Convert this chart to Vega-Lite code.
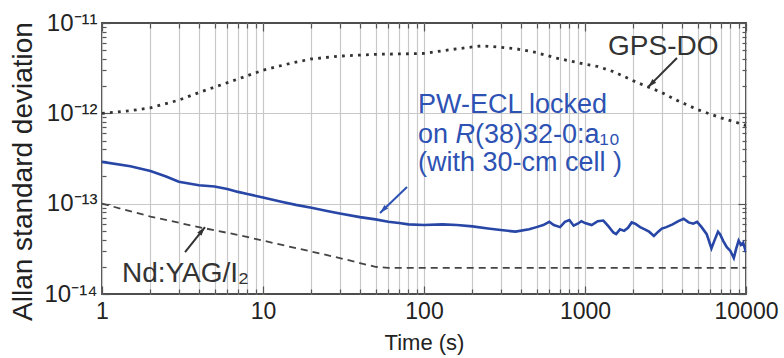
{
  "$schema": "https://vega.github.io/schema/vega-lite/v6.json",
  "width": 644,
  "height": 271,
  "autosize": "none",
  "padding": {"left": 102, "top": 23, "right": 38, "bottom": 64},
  "background": "white",
  "config": {
    "view": {"stroke": "#4d4d4d", "strokeWidth": 2},
    "font": "Liberation Sans",
    "axis": {
      "labelFont": "Liberation Sans",
      "titleFont": "Liberation Sans",
      "labelColor": "#222222",
      "titleColor": "#222222",
      "titleFontWeight": "normal",
      "domain": false,
      "tickColor": "#555555",
      "tickWidth": 1.2,
      "gridColor": "#c8c8c8",
      "gridWidth": 1.2,
      "labelOverlap": false,
      "labelFlush": false
    }
  },
  "datasets": {
    "gps": [
      {"t": 1, "s": 1.0e-12}, {"t": 1.5, "s": 1.07e-12}, {"t": 2, "s": 1.15e-12}, {"t": 3, "s": 1.4e-12},
      {"t": 4, "s": 1.7e-12}, {"t": 5, "s": 1.95e-12}, {"t": 7, "s": 2.4e-12}, {"t": 10, "s": 3.0e-12},
      {"t": 15, "s": 3.6e-12}, {"t": 20, "s": 4.0e-12}, {"t": 30, "s": 4.3e-12}, {"t": 50, "s": 4.5e-12},
      {"t": 100, "s": 4.6e-12}, {"t": 150, "s": 5.1e-12}, {"t": 230, "s": 5.6e-12}, {"t": 370, "s": 5.2e-12},
      {"t": 500, "s": 4.7e-12}, {"t": 660, "s": 4.1e-12}, {"t": 1000, "s": 3.5e-12}, {"t": 1200, "s": 3.3e-12},
      {"t": 1500, "s": 2.9e-12}, {"t": 2100, "s": 2.2e-12}, {"t": 3000, "s": 1.7e-12}, {"t": 3700, "s": 1.4e-12},
      {"t": 5000, "s": 1.1e-12}, {"t": 7000, "s": 8.9e-13}, {"t": 8800, "s": 7.9e-13}, {"t": 10000, "s": 7.3e-13}
    ],
    "ecl": [
      {"t": 1, "s": 2.9e-13}, {"t": 1.5, "s": 2.6e-13}, {"t": 2, "s": 2.3e-13}, {"t": 2.5, "s": 2.0e-13},
      {"t": 3, "s": 1.75e-13}, {"t": 4, "s": 1.6e-13}, {"t": 5, "s": 1.55e-13}, {"t": 6, "s": 1.45e-13},
      {"t": 7, "s": 1.35e-13}, {"t": 8, "s": 1.28e-13}, {"t": 10, "s": 1.17e-13}, {"t": 13, "s": 1.05e-13},
      {"t": 16, "s": 9.7e-14}, {"t": 20, "s": 9.0e-14}, {"t": 25, "s": 8.3e-14}, {"t": 30, "s": 7.8e-14},
      {"t": 40, "s": 7.1e-14}, {"t": 50, "s": 6.7e-14}, {"t": 60, "s": 6.3e-14}, {"t": 70, "s": 6.1e-14},
      {"t": 80, "s": 5.9e-14}, {"t": 100, "s": 5.8e-14}, {"t": 130, "s": 5.9e-14}, {"t": 160, "s": 5.8e-14},
      {"t": 200, "s": 5.6e-14}, {"t": 250, "s": 5.3e-14}, {"t": 300, "s": 5.1e-14}, {"t": 370, "s": 4.9e-14},
      {"t": 450, "s": 5.2e-14}, {"t": 500, "s": 5.5e-14}, {"t": 550, "s": 5.8e-14}, {"t": 600, "s": 6.3e-14},
      {"t": 640, "s": 5.8e-14}, {"t": 700, "s": 5.5e-14}, {"t": 750, "s": 6.3e-14}, {"t": 800, "s": 6.6e-14},
      {"t": 850, "s": 5.7e-14}, {"t": 900, "s": 6.0e-14}, {"t": 950, "s": 6.4e-14}, {"t": 1000, "s": 6.1e-14},
      {"t": 1100, "s": 5.8e-14}, {"t": 1200, "s": 6.4e-14}, {"t": 1300, "s": 6.5e-14}, {"t": 1400, "s": 5.6e-14},
      {"t": 1500, "s": 4.8e-14}, {"t": 1560, "s": 4.6e-14}, {"t": 1650, "s": 5.2e-14}, {"t": 1750, "s": 5.0e-14},
      {"t": 1850, "s": 5.4e-14}, {"t": 1950, "s": 6.2e-14}, {"t": 2050, "s": 6.0e-14}, {"t": 2200, "s": 5.5e-14},
      {"t": 2350, "s": 5.2e-14}, {"t": 2500, "s": 4.9e-14}, {"t": 2680, "s": 4.4e-14}, {"t": 2850, "s": 4.9e-14},
      {"t": 3000, "s": 5.3e-14}, {"t": 3200, "s": 5.5e-14}, {"t": 3500, "s": 5.9e-14}, {"t": 3800, "s": 6.4e-14},
      {"t": 4100, "s": 6.8e-14}, {"t": 4400, "s": 6.2e-14}, {"t": 4700, "s": 6.0e-14}, {"t": 4970, "s": 6.3e-14},
      {"t": 5300, "s": 5.5e-14}, {"t": 5700, "s": 4.6e-14}, {"t": 6100, "s": 3.2e-14}, {"t": 6400, "s": 4.0e-14},
      {"t": 6700, "s": 4.9e-14}, {"t": 6900, "s": 4.6e-14}, {"t": 7200, "s": 3.9e-14}, {"t": 7600, "s": 3.3e-14},
      {"t": 8000, "s": 3.0e-14}, {"t": 8400, "s": 2.5e-14}, {"t": 8700, "s": 3.2e-14}, {"t": 9000, "s": 3.9e-14},
      {"t": 9300, "s": 3.5e-14}, {"t": 9600, "s": 3.7e-14}, {"t": 10000, "s": 2.9e-14}
    ],
    "ndyag": [
      {"t": 1, "s": 1.0e-13}, {"t": 2, "s": 7.2e-14}, {"t": 4, "s": 5.5e-14}, {"t": 7, "s": 4.5e-14},
      {"t": 10, "s": 3.9e-14}, {"t": 20, "s": 2.95e-14}, {"t": 30, "s": 2.5e-14}, {"t": 40, "s": 2.2e-14},
      {"t": 50, "s": 2.0e-14}, {"t": 60, "s": 1.95e-14}, {"t": 10000, "s": 1.95e-14}
    ]
  },
  "layer": [
    {
      "data": {"name": "gps"},
      "mark": {"type": "line", "stroke": "#333333", "strokeWidth": 2.8, "strokeDash": [2.8, 5.2], "clip": true},
      "encoding": {
        "x": {
          "field": "t", "type": "quantitative",
          "scale": {"type": "log", "domain": [1, 10000]},
          "axis": {
            "orient": "bottom",
            "values": [1,2,3,4,5,6,7,8,9,10,20,30,40,50,60,70,80,90,100,200,300,400,500,600,700,800,900,1000,2000,3000,4000,5000,6000,7000,8000,9000,10000],
            "labelExpr": "(datum.value == 1 || datum.value == 10 || datum.value == 100 || datum.value == 1000 || datum.value == 10000) ? format(datum.value, 'd') : ''",
            "grid": true,
            "tickSize": {"condition": {"test": "datum.value == 1 || datum.value == 10 || datum.value == 100 || datum.value == 1000 || datum.value == 10000", "value": -8}, "value": -5},
            "labelFontSize": 23,
            "labelPadding": 14,
            "title": "Time (s)",
            "titleFontSize": 22,
            "titleBaseline": "middle",
            "titleY": 48
          }
        },
        "y": {
          "field": "s", "type": "quantitative",
          "scale": {"type": "log", "domain": [1e-14, 1e-11]},
          "axis": {
            "orient": "left",
            "values": [1e-14,2e-14,3e-14,4e-14,5e-14,6e-14,7e-14,8e-14,9e-14,1e-13,2e-13,3e-13,4e-13,5e-13,6e-13,7e-13,8e-13,9e-13,1e-12,2e-12,3e-12,4e-12,5e-12,6e-12,7e-12,8e-12,9e-12,1e-11],
            "labelExpr": "datum.value == 1e-11 ? '10⁻¹¹' : datum.value == 1e-12 ? '10⁻¹²' : datum.value == 1e-13 ? '10⁻¹³' : datum.value == 1e-14 ? '10⁻¹⁴' : ''",
            "grid": true,
            "gridOpacity": {"condition": {"test": "datum.value == 1e-12 || datum.value == 1e-13", "value": 1}, "value": 0},
            "tickSize": {"condition": {"test": "datum.value == 1e-11 || datum.value == 1e-12 || datum.value == 1e-13 || datum.value == 1e-14", "value": -8}, "value": -4},
            "labelFontSize": 24,
            "labelPadding": 13,
            "labelBaseline": "middle",
            "title": "Allan standard deviation",
            "titleFontSize": 28,
            "titleAngle": -90,
            "titleAlign": "center",
            "titleBaseline": "middle",
            "titleX": -79,
            "titleY": 148
          }
        }
      }
    },
    {
      "data": {"name": "ecl"},
      "mark": {"type": "line", "stroke": "#2746a6", "strokeWidth": 2.6, "clip": true},
      "encoding": {
        "x": {
          "field": "t", "type": "quantitative",
          "scale": {"type": "log", "domain": [1, 10000]},
          "axis": {
            "orient": "top",
            "values": [1,2,3,4,5,6,7,8,9,10,20,30,40,50,60,70,80,90,100,200,300,400,500,600,700,800,900,1000,2000,3000,4000,5000,6000,7000,8000,9000,10000],
            "labels": false, "grid": false, "title": null,
            "tickSize": {"condition": {"test": "datum.value == 1 || datum.value == 10 || datum.value == 100 || datum.value == 1000 || datum.value == 10000", "value": -8}, "value": -5}
          }
        },
        "y": {
          "field": "s", "type": "quantitative",
          "scale": {"type": "log", "domain": [1e-14, 1e-11]},
          "axis": {
            "orient": "right",
            "values": [1e-14,2e-14,3e-14,4e-14,5e-14,6e-14,7e-14,8e-14,9e-14,1e-13,2e-13,3e-13,4e-13,5e-13,6e-13,7e-13,8e-13,9e-13,1e-12,2e-12,3e-12,4e-12,5e-12,6e-12,7e-12,8e-12,9e-12,1e-11],
            "labels": false, "grid": false, "title": null,
            "tickSize": {"condition": {"test": "datum.value == 1e-11 || datum.value == 1e-12 || datum.value == 1e-13 || datum.value == 1e-14", "value": -8}, "value": -4}
          }
        }
      }
    },
    {
      "data": {"name": "ndyag"},
      "mark": {"type": "line", "stroke": "#444444", "strokeWidth": 1.8, "strokeDash": [7, 5], "clip": true},
      "encoding": {
        "x": {"field": "t", "type": "quantitative", "scale": {"type": "log", "domain": [1, 10000]}, "axis": null},
        "y": {"field": "s", "type": "quantitative", "scale": {"type": "log", "domain": [1e-14, 1e-11]}, "axis": null}
      }
    },
    {
      "data": {"values": [
        {"t": 3725, "s": 4.09e-12, "t2": 2462, "s2": 1.95e-12, "color": "gray"},
        {"t": 78.4, "s": 1.53e-13, "t2": 53.3, "s2": 7.87e-14, "color": "blue"},
        {"t": 3.28, "s": 2.91e-14, "t2": 4.36, "s2": 5.5e-14, "color": "gray"}
      ]},
      "mark": {"type": "rule", "strokeWidth": 2},
      "encoding": {
        "x": {"field": "t", "type": "quantitative", "scale": {"type": "log", "domain": [1, 10000]}, "axis": null},
        "x2": {"field": "t2"},
        "y": {"field": "s", "type": "quantitative", "scale": {"type": "log", "domain": [1e-14, 1e-11]}, "axis": null},
        "y2": {"field": "s2"},
        "color": {"field": "color", "type": "nominal", "scale": {"domain": ["gray", "blue"], "range": ["#333333", "#2d52b3"]}, "legend": null}
      }
    },
    {
      "data": {"values": [
        {"t": 2462, "s": 1.95e-12, "dir": 225, "color": "gray"},
        {"t": 53.3, "s": 7.87e-14, "dir": 225, "color": "blue"},
        {"t": 4.36, "s": 5.5e-14, "dir": 39, "color": "gray"}
      ]},
      "mark": {"type": "point", "shape": "M0,0L-0.5,1.7L0.5,1.7Z", "filled": true, "size": 110, "opacity": 1},
      "encoding": {
        "x": {"field": "t", "type": "quantitative", "scale": {"type": "log", "domain": [1, 10000]}, "axis": null},
        "y": {"field": "s", "type": "quantitative", "scale": {"type": "log", "domain": [1e-14, 1e-11]}, "axis": null},
        "angle": {"field": "dir", "type": "quantitative", "scale": null},
        "color": {"field": "color", "type": "nominal", "scale": {"domain": ["gray", "blue"], "range": ["#333333", "#2d52b3"]}, "legend": null}
      }
    },
    {
      "data": {"values": [
        {"t": 1390, "s": 4.43e-12, "label": "GPS-DO"},
        {"t": 1.33, "s": 1.355e-14, "label": "Nd:YAG/I₂"}
      ]},
      "mark": {"type": "text", "align": "left", "baseline": "alphabetic", "fontSize": 28, "color": "#333333", "font": "Liberation Sans"},
      "encoding": {
        "x": {"field": "t", "type": "quantitative", "scale": {"type": "log", "domain": [1, 10000]}, "axis": null},
        "y": {"field": "s", "type": "quantitative", "scale": {"type": "log", "domain": [1e-14, 1e-11]}, "axis": null},
        "text": {"field": "label"}
      }
    },
    {
      "data": {"values": [
        {"t": 91.8, "s": 1.007e-12, "label": "PW-ECL locked"},
        {"t": 91.8, "s": 4.69e-13, "label": "on "},
        {"t": 91.8, "s": 2.30e-13, "label": "(with 30-cm cell )"}
      ]},
      "mark": {"type": "text", "align": "left", "baseline": "alphabetic", "fontSize": 27, "color": "#2d52b3", "font": "Liberation Sans"},
      "encoding": {
        "x": {"field": "t", "type": "quantitative", "scale": {"type": "log", "domain": [1, 10000]}, "axis": null},
        "y": {"field": "s", "type": "quantitative", "scale": {"type": "log", "domain": [1e-14, 1e-11]}, "axis": null},
        "text": {"field": "label"}
      }
    },
    {
      "data": {"values": [{"t": 91.8, "s": 4.69e-13, "label": "R"}]},
      "mark": {"type": "text", "align": "left", "baseline": "alphabetic", "fontSize": 27, "fontStyle": "italic", "color": "#2d52b3", "font": "Liberation Sans", "dx": 37.5},
      "encoding": {
        "x": {"field": "t", "type": "quantitative", "scale": {"type": "log", "domain": [1, 10000]}, "axis": null},
        "y": {"field": "s", "type": "quantitative", "scale": {"type": "log", "domain": [1e-14, 1e-11]}, "axis": null},
        "text": {"field": "label"}
      }
    },
    {
      "data": {"values": [{"t": 91.8, "s": 4.69e-13, "label": "(38)32-0:a₁₀"}]},
      "mark": {"type": "text", "align": "left", "baseline": "alphabetic", "fontSize": 27, "color": "#2d52b3", "font": "Liberation Sans", "dx": 57},
      "encoding": {
        "x": {"field": "t", "type": "quantitative", "scale": {"type": "log", "domain": [1, 10000]}, "axis": null},
        "y": {"field": "s", "type": "quantitative", "scale": {"type": "log", "domain": [1e-14, 1e-11]}, "axis": null},
        "text": {"field": "label"}
      }
    }
  ],
  "resolve": {"axis": {"x": "independent", "y": "independent"}}
}
